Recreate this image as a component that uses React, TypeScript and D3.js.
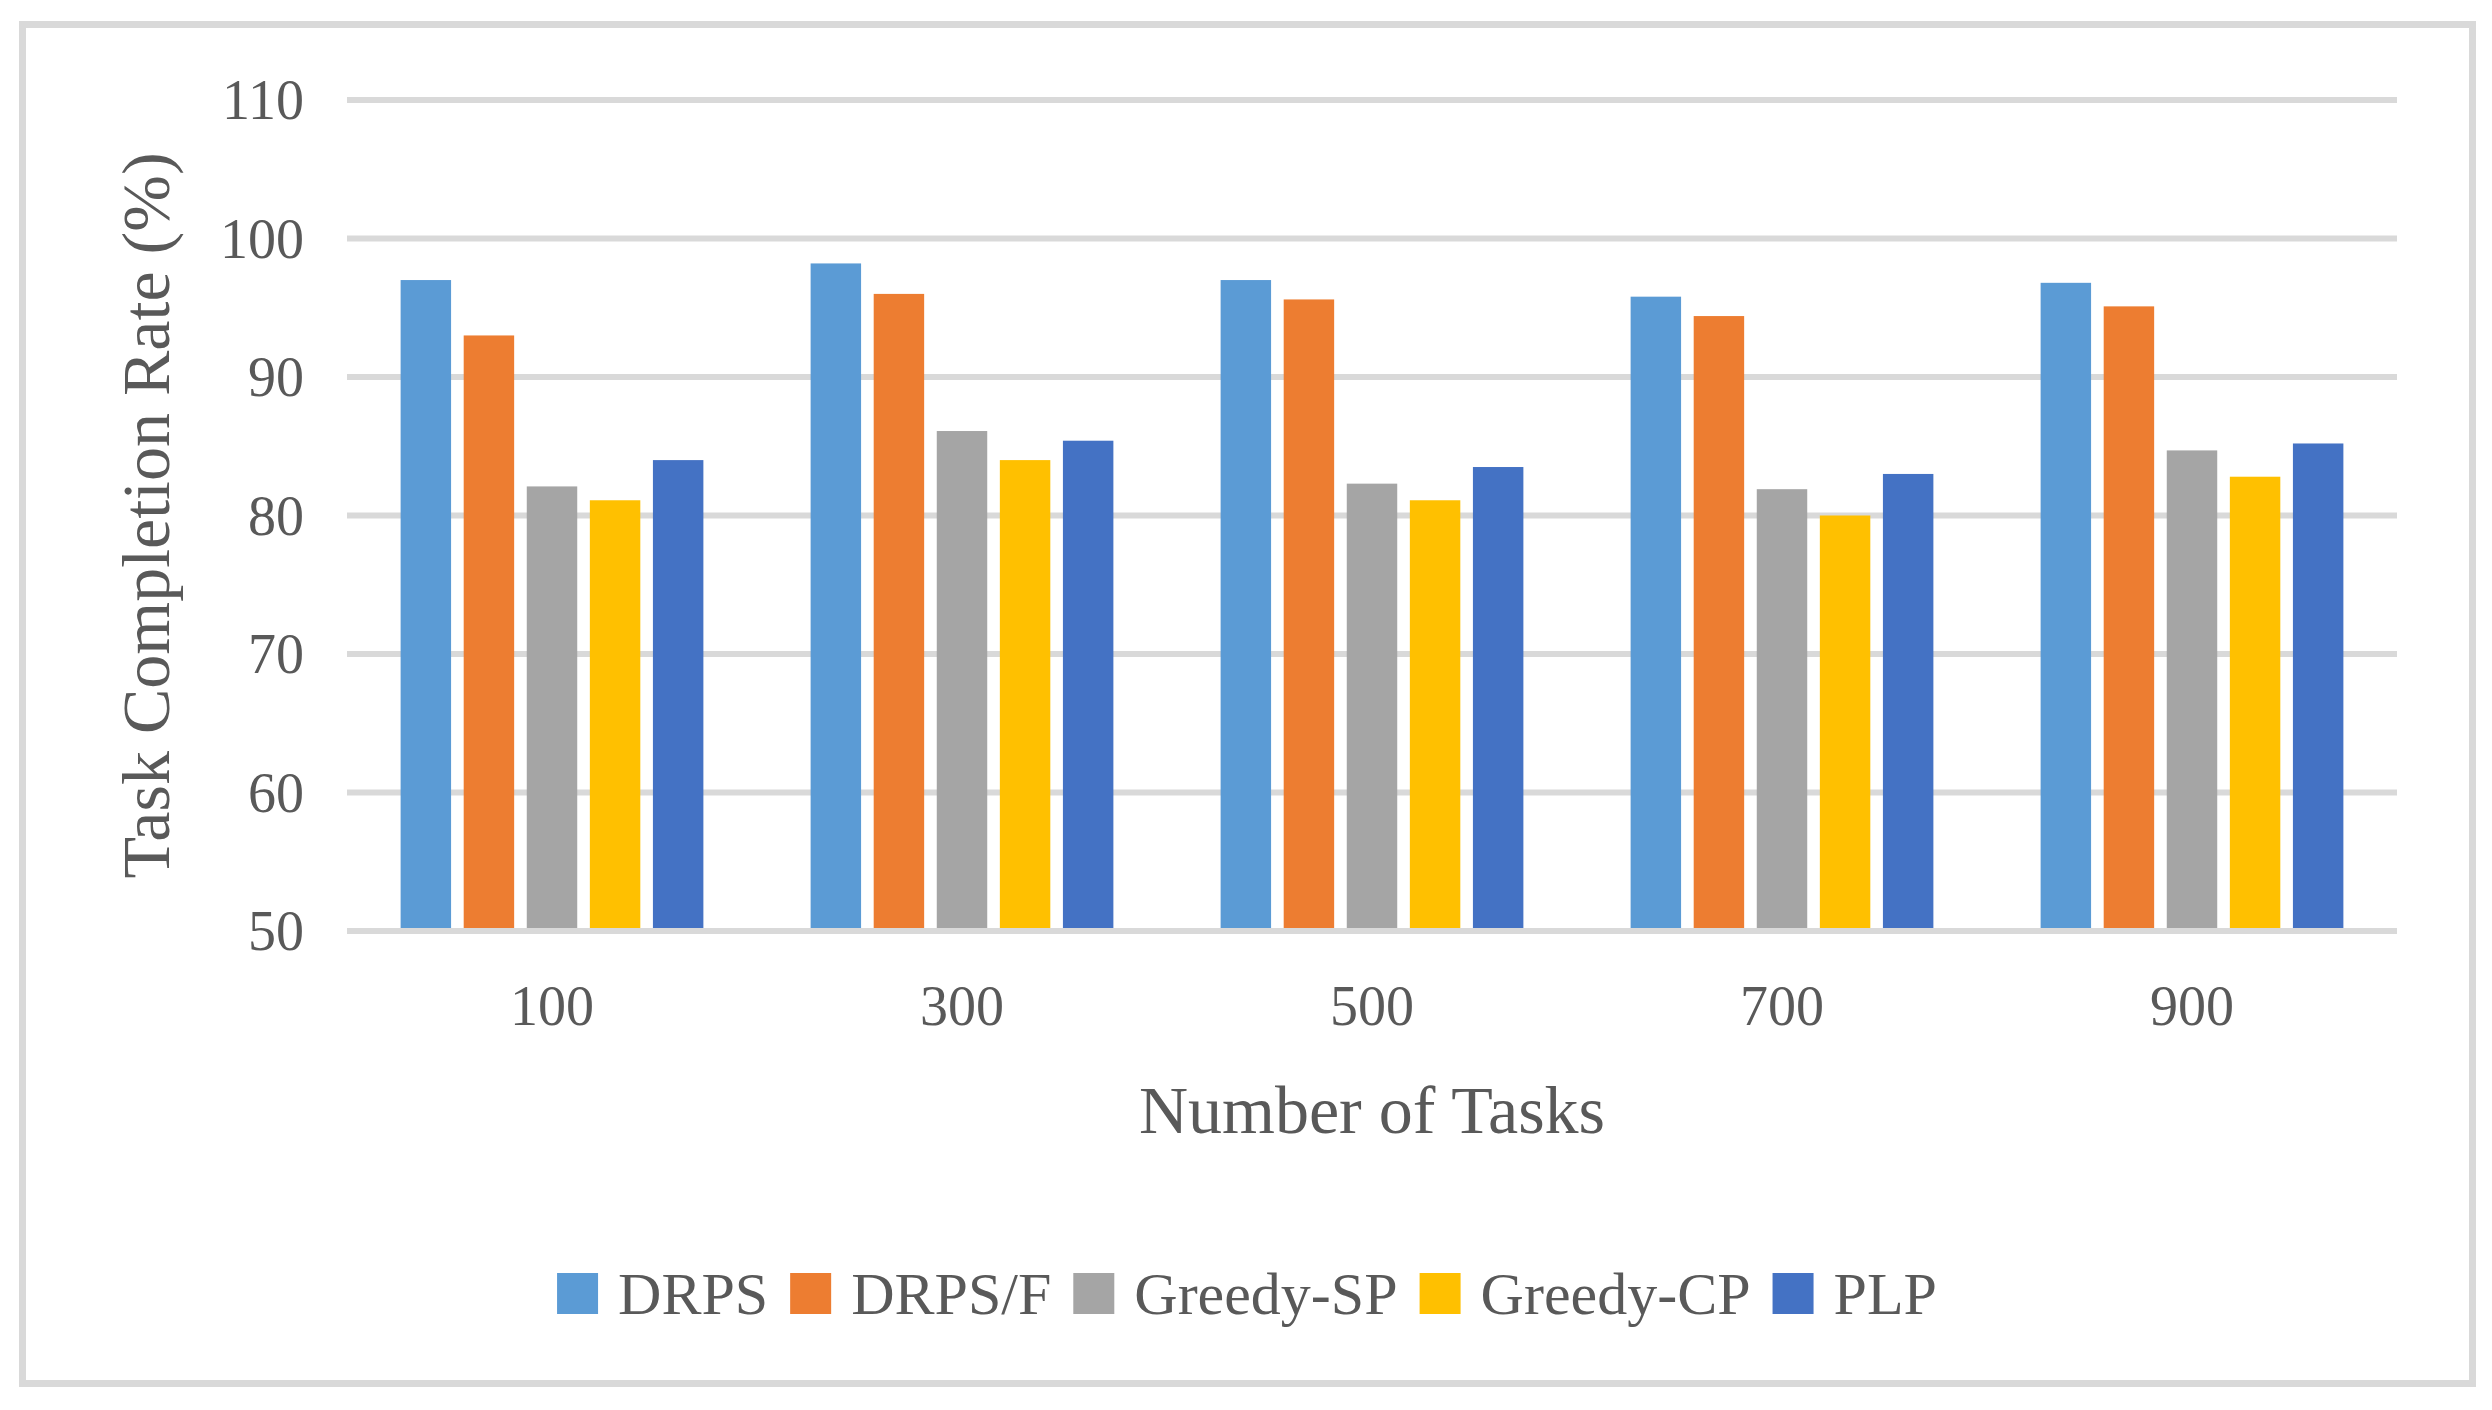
import React, { useEffect, useRef } from 'react';
import * as d3 from 'd3';

// task counts on the x axis
const categories = ['100', '300', '500', '700', '900'];
const seriesNames = ['DRPS', 'DRPS/F', 'Greedy-SP', 'Greedy-CP', 'PLP'];
const seriesColors = ['#5B9BD5', '#ED7D31', '#A5A5A5', '#FFC000', '#4472C4'];

// completion rate (%) per series, one value per category
const drps = [97.0, 98.2, 97.0, 95.8, 96.8];
const drpsF = [93.0, 96.0, 95.6, 94.4, 95.1];
const greedySP = [82.1, 86.1, 82.3, 81.9, 84.7];
const greedyCP = [81.1, 84.0, 81.1, 80.0, 82.8];
const plp = [84.0, 85.4, 83.5, 83.0, 85.2];

const yTicks = [50, 60, 70, 80, 90, 100, 110];

const W = 2492;
const H = 1410;
const FONT = '"Liberation Serif", "Times New Roman", serif';
const TEXT = '#595959';
const GRID = '#D9D9D9';

const App: React.FC = () => {
  const svgRef = useRef<SVGSVGElement>(null);

  useEffect(() => {
    document.body.style.margin = '0';
    if (!svgRef.current) return;
    const svg = d3.select(svgRef.current);
    svg.selectAll('*').remove();

    const values = [drps, drpsF, greedySP, greedyCP, plp];
    const rows = categories.map((c, i) => ({
      cat: c,
      vals: seriesNames.map((s, j) => ({ name: s, value: values[j][i], color: seriesColors[j] })),
    }));

    const plot = { left: 347, right: 2397, top: 100, bottom: 931 };

    const x0 = d3.scaleBand().domain(categories).range([plot.left, plot.right]);
    const x1 = d3.scaleBand().domain(seriesNames).range([0, x0.bandwidth()])
      .paddingInner(0.2).paddingOuter(0.85);
    const y = d3.scaleLinear().domain([50, 110]).range([plot.bottom, plot.top]);

    svg.append('rect').attr('width', W).attr('height', H).attr('fill', '#fff');
    // chart frame
    svg.append('rect')
      .attr('x', 22.5).attr('y', 24.5).attr('width', 2450).attr('height', 1359)
      .attr('fill', 'none').attr('stroke', GRID).attr('stroke-width', 7);

    // gridlines (except baseline, which goes on top of the bars)
    svg.append('g').selectAll('line')
      .data(yTicks.filter(t => t !== 50))
      .enter().append('line')
      .attr('x1', plot.left).attr('x2', plot.right)
      .attr('y1', d => y(d)).attr('y2', d => y(d))
      .attr('stroke', GRID).attr('stroke-width', 6);

    // y tick labels
    svg.append('g').selectAll('text')
      .data(yTicks)
      .enter().append('text')
      .attr('x', 304).attr('y', d => y(d) + 19)
      .attr('text-anchor', 'end')
      .attr('font-family', FONT).attr('font-size', 56).attr('fill', TEXT)
      .text(d => d);

    // bars
    const groups = svg.append('g').selectAll('g')
      .data(rows)
      .enter().append('g')
      .attr('transform', d => `translate(${x0(d.cat)},0)`);
    groups.selectAll('rect')
      .data(d => d.vals)
      .enter().append('rect')
      .attr('x', d => x1(d.name) || 0)
      .attr('width', x1.bandwidth())
      .attr('y', d => y(d.value))
      .attr('height', d => y(50) - y(d.value))
      .attr('fill', d => d.color);

    // baseline
    svg.append('line')
      .attr('x1', plot.left).attr('x2', plot.right)
      .attr('y1', y(50)).attr('y2', y(50))
      .attr('stroke', GRID).attr('stroke-width', 6);

    // x tick labels
    svg.append('g').selectAll('text')
      .data(categories)
      .enter().append('text')
      .attr('x', d => (x0(d) || 0) + x0.bandwidth() / 2)
      .attr('y', 1025)
      .attr('text-anchor', 'middle')
      .attr('font-family', FONT).attr('font-size', 56).attr('fill', TEXT)
      .text(d => d);

    // axis titles
    svg.append('text')
      .attr('x', (plot.left + plot.right) / 2).attr('y', 1133)
      .attr('text-anchor', 'middle')
      .attr('font-family', FONT).attr('font-size', 68).attr('fill', TEXT)
      .text('Number of Tasks');
    svg.append('text')
      .attr('transform', `translate(169,${(plot.top + plot.bottom) / 2}) rotate(-90)`)
      .attr('text-anchor', 'middle')
      .attr('font-family', FONT).attr('font-size', 68).attr('fill', TEXT)
      .text('Task Completion Rate (%)');

    // legend, centered on the frame
    const legend = svg.append('g');
    const sq = 41;
    let cx = 0;
    seriesNames.forEach((name, i) => {
      legend.append('rect')
        .attr('x', cx).attr('y', -sq).attr('width', sq).attr('height', sq)
        .attr('fill', seriesColors[i]);
      const t = legend.append('text')
        .attr('x', cx + sq + 20).attr('y', 0)
        .attr('font-family', FONT).attr('font-size', 60).attr('fill', TEXT)
        .text(name);
      const len = (t.node() as SVGTextElement).getComputedTextLength();
      cx += sq + 20 + len + 22;
    });
    const total = cx - 22;
    legend.attr('transform', `translate(${1247 - total / 2},1314)`);
  }, []);

  return (
    <svg ref={svgRef} width={W} height={H} style={{ display: 'block' }} />
  );
};

export default App;
